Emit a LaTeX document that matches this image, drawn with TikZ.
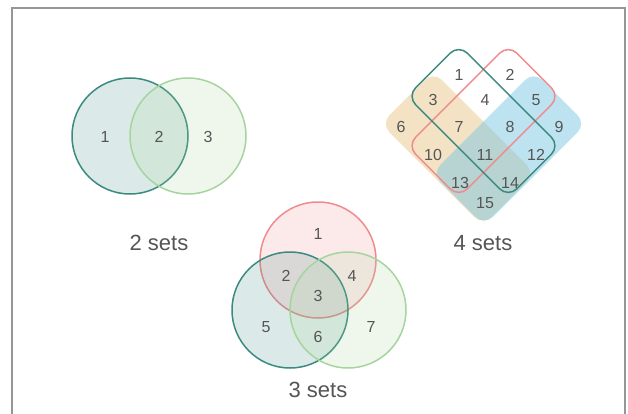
\documentclass[tikz,border=0pt]{standalone}
\usepackage{fontspec}
\setmainfont{Liberation Sans}
\usetikzlibrary{positioning}
\definecolor{setTeal}{RGB}{58,138,128}
\definecolor{setGreen}{RGB}{166,212,158}
\definecolor{setRed}{RGB}{240,138,142}
\definecolor{setSand}{RGB}{232,200,138}
\definecolor{setSky}{RGB}{124,198,226}
\definecolor{inkGray}{RGB}{85,85,85}
\definecolor{frameGray}{RGB}{150,150,150}
\tikzset{
  set circle/.style={circle,draw=#1,fill=#1,fill opacity=0.18,line width=1.5pt,minimum size=116pt,inner sep=0pt},
  set band/.style={rectangle,draw=#1,line width=1.5pt,minimum width=143pt,minimum height=73pt,rounded corners=12pt,inner sep=0pt},
  set patch/.style={rectangle,fill=#1,fill opacity=0.5,minimum width=144pt,minimum height=74pt,rounded corners=12pt,inner sep=0pt},
  region label/.style={text=inkGray,font=\fontsize{16}{18}\selectfont,inner sep=1pt},
  set caption/.style={text=inkGray,font=\fontsize{22}{24}\selectfont,inner sep=1pt}
}

\begin{document}
\begin{tikzpicture}[x=1pt,y=-1pt]
  \useasboundingbox (0,0) rectangle (628,414);
  % frame
  \draw[frameGray,line width=1.5pt] (12,414) -- (12,8) -- (625,8) -- (625,414);

  % 2 sets
  \node[set circle=setTeal] (twoA) at (130,136) {};
  \node[set circle=setGreen] (twoB) at (188,136) {};
  \node[region label] (twoR1) at (105,137) {1};
  \node[region label] (twoR2) at (159,137) {2};
  \node[region label] (twoR3) at (208,137) {3};
  \node[set caption] (twoCap) at (159,243) {2 sets};

  % 3 sets
  \node[set circle=setRed] (threeA) at (318,260) {};
  \node[set circle=setTeal] (threeB) at (290,310) {};
  \node[set circle=setGreen] (threeC) at (348,310) {};
  \node[region label] (threeR1) at (318,234) {1};
  \node[region label] (threeR2) at (286,276) {2};
  \node[region label] (threeR3) at (318,296) {3};
  \node[region label] (threeR4) at (352,276) {4};
  \node[region label] (threeR5) at (266,327) {5};
  \node[region label] (threeR6) at (318,337) {6};
  \node[region label] (threeR7) at (371,327) {7};
  \node[set caption] (threeCap) at (318,390) {3 sets};

  % 4 sets
  \node[set patch=setSand,rotate=-45] (fourC) at (458,148.5) {};
  \node[set patch=setSky,rotate=45] (fourD) at (509,148.5) {};
  \node[set band=setRed,rotate=45] (fourB) at (483.5,121) {};
  \node[set band=setTeal,rotate=-45] (fourA) at (483.5,121) {};
  \node[region label] (fourR1) at (459,75) {1};
  \node[region label] (fourR2) at (510,75) {2};
  \node[region label] (fourR3) at (433,100) {3};
  \node[region label] (fourR4) at (485,100) {4};
  \node[region label] (fourR5) at (536,100) {5};
  \node[region label] (fourR6) at (401,127) {6};
  \node[region label] (fourR7) at (459,127) {7};
  \node[region label] (fourR8) at (510,127) {8};
  \node[region label] (fourR9) at (559,127) {9};
  \node[region label] (fourR10) at (433,155) {10};
  \node[region label] (fourR11) at (485,155) {11};
  \node[region label] (fourR12) at (536,155) {12};
  \node[region label] (fourR13) at (460,183) {13};
  \node[region label] (fourR14) at (510,183) {14};
  \node[region label] (fourR15) at (485,203) {15};
  \node[set caption] (fourCap) at (483,243) {4 sets};
\end{tikzpicture}
\end{document}
